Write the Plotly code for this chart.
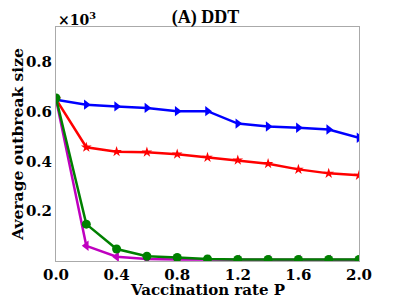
import plotly.graph_objects as go

P = [0.0, 0.2, 0.4, 0.6, 0.8, 1.0, 1.2, 1.4, 1.6, 1.8, 2.0]
blue = [0.648, 0.628, 0.621, 0.615, 0.602, 0.602, 0.552, 0.540, 0.535, 0.528, 0.495]
red = [0.650, 0.457, 0.439, 0.437, 0.429, 0.416, 0.405, 0.391, 0.368, 0.352, 0.344]
green = [0.655, 0.148, 0.048, 0.019, 0.014, 0.008, 0.006, 0.006, 0.006, 0.006, 0.006]
magenta = [0.650, 0.061, 0.017, 0.008, 0.006, 0.005, 0.005, 0.005, 0.005, 0.005, 0.005]
xticks = [0.0, 0.4, 0.8, 1.2, 1.6, 2.0]
yticks = [0.2, 0.4, 0.6, 0.8]

font = "DejaVu Serif"
fig = go.Figure()
fig.add_trace(go.Scatter(x=P, y=blue, mode="lines+markers",
                         line=dict(color="#0000ff", width=2.5),
                         marker=dict(symbol="triangle-right", size=9, color="#0000ff")))
fig.add_trace(go.Scatter(x=P, y=red, mode="lines+markers",
                         line=dict(color="#ff0000", width=2.5),
                         marker=dict(symbol="star", size=8, color="#ff0000")))
fig.add_trace(go.Scatter(x=P, y=magenta, mode="lines+markers",
                         line=dict(color="#bf00bf", width=2.5),
                         marker=dict(symbol="triangle-left", size=9, color="#bf00bf")))
fig.add_trace(go.Scatter(x=P, y=green, mode="lines+markers",
                         line=dict(color="#008000", width=2.5),
                         marker=dict(symbol="circle", size=9, color="#008000")))

fig.update_layout(
    width=399, height=300,
    margin=dict(l=48, r=48, t=19, b=47, autoexpand=False),
    plot_bgcolor="white", paper_bgcolor="white",
    showlegend=False,
    font=dict(family=font, size=15, color="black"),
    title=dict(text="<b>(A) DDT</b>", x=0.495, xanchor="center", y=0.97, yanchor="middle",
               font=dict(family="Liberation Serif", size=18, color="black")),
    xaxis=dict(range=[0, 2.0], tickvals=xticks, ticktext=[f"<b>{v:.1f}</b>" for v in xticks],
               showgrid=False, zeroline=False, showline=True, mirror=True,
               linecolor="#aaaaaa", linewidth=1, ticks="", automargin=False,
               tickfont=dict(family=font, size=15, color="black")),
    yaxis=dict(range=[0, 0.94], tickvals=yticks, ticktext=[f"<b>{v:.1f}</b>" for v in yticks],
               showgrid=False, zeroline=False, showline=True, mirror=True,
               linecolor="#aaaaaa", linewidth=1, ticks="", automargin=False,
               tickfont=dict(family=font, size=15, color="black"),
               title=dict(text="<b>Average outbreak size</b>", standoff=2,
                          font=dict(family=font, size=15.5, color="black"))),
)
fig.add_annotation(text="<b>Vaccination rate P</b>", xref="paper", yref="paper",
                   x=0.5, y=-0.123, xanchor="center", yanchor="middle", showarrow=False,
                   font=dict(family=font, size=15, color="black"))
fig.add_annotation(text="<b>×10<sup>3</sup></b>", xref="paper", yref="paper",
                   x=0, y=1.0, xanchor="left", yanchor="bottom", showarrow=False, yshift=-3,
                   font=dict(family=font, size=14, color="black"))
fig.write_html("out.html")
